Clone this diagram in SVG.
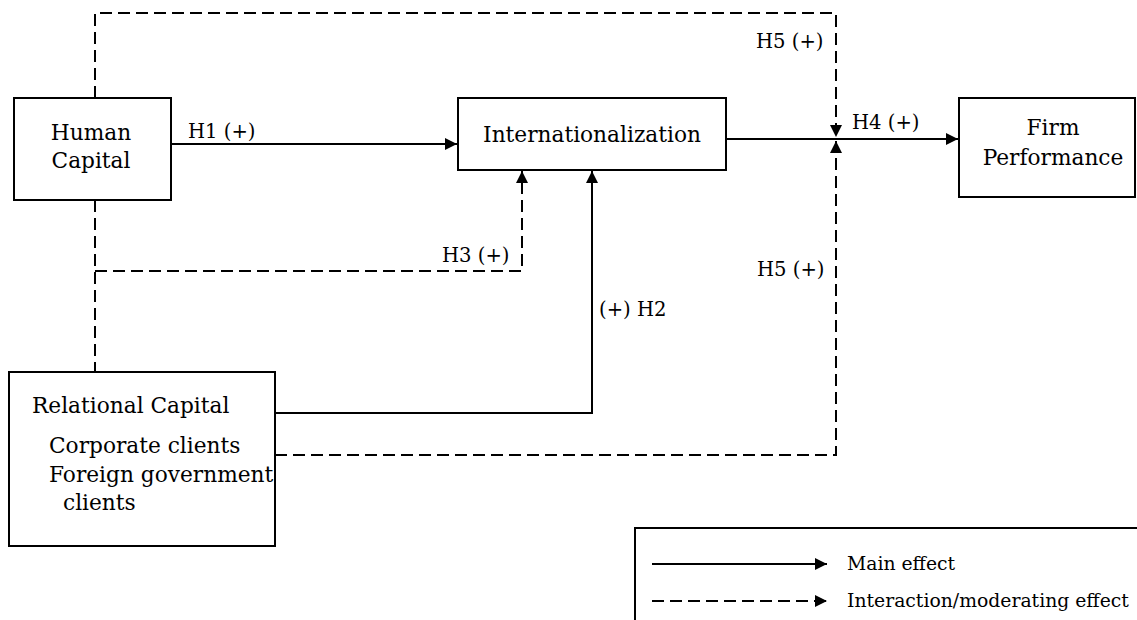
<svg xmlns="http://www.w3.org/2000/svg" width="1137" height="620" viewBox="0 0 1137 620">
  <style>
    .box { fill: #ffffff; stroke: #000000; stroke-width: 2; }
    .solid { fill: none; stroke: #000000; stroke-width: 2; }
    .dash { fill: none; stroke: #000000; stroke-width: 2; stroke-dasharray: 12 6; }
    .node { font-family: "DejaVu Serif", "Liberation Serif", serif; font-size: 21.7px; fill: #000000; }
    .lbl { font-family: "DejaVu Serif", "Liberation Serif", serif; font-size: 19.6px; fill: #000000; }
    .key { font-family: "DejaVu Serif", "Liberation Serif", serif; font-size: 18.8px; fill: #000000; }
    .mid { text-anchor: middle; }
  </style>
  <defs>
    <marker id="arrow" markerUnits="userSpaceOnUse" markerWidth="13" markerHeight="12" refX="12" refY="6" orient="auto">
      <path d="M0,0 L12,6 L0,12 Z" fill="#000000"/>
    </marker>
  </defs>

  <rect width="1137" height="620" fill="#ffffff"/>

  <!-- connectors -->
  <g id="connectors">
    <!-- H1: human capital to internationalization -->
    <line class="solid" x1="171" y1="144" x2="457" y2="144" marker-end="url(#arrow)"/>
    <!-- H4: internationalization to firm performance -->
    <line class="solid" x1="726" y1="139" x2="958" y2="139" marker-end="url(#arrow)"/>
    <!-- H5 upper: human capital moderating the H4 path -->
    <path class="dash" d="M95,98 V13 H836 V137" marker-end="url(#arrow)"/>
    <!-- H5 lower: relational capital moderating the H4 path -->
    <path class="dash" d="M275,455 H836 V141" marker-end="url(#arrow)"/>
    <!-- link between human and relational capital -->
    <line class="dash" x1="95" y1="200" x2="95" y2="372"/>
    <!-- H3: interaction into internationalization -->
    <path class="dash" d="M95,271 H522 V171" marker-end="url(#arrow)"/>
    <!-- H2: relational capital to internationalization -->
    <path class="solid" d="M275,413 H592 V171" marker-end="url(#arrow)"/>
  </g>

  <!-- nodes -->
  <g id="human-capital">
    <rect class="box" x="14" y="98" width="157" height="102"/>
    <text class="node mid" x="91" y="140">Human</text>
    <text class="node mid" x="91" y="168">Capital</text>
  </g>

  <g id="internationalization">
    <rect class="box" x="458" y="98" width="268" height="72"/>
    <text class="node mid" x="592" y="142">Internationalization</text>
  </g>

  <g id="firm-performance">
    <rect class="box" x="959" y="98" width="176" height="99"/>
    <text class="node mid" x="1053" y="135">Firm</text>
    <text class="node mid" x="1053" y="165">Performance</text>
  </g>

  <g id="relational-capital">
    <rect class="box" x="9" y="372" width="266" height="174"/>
    <text class="node" x="32" y="413">Relational Capital</text>
    <text class="node" x="49" y="453">Corporate clients</text>
    <text class="node" x="49" y="482">Foreign government</text>
    <text class="node" x="63" y="510">clients</text>
  </g>

  <!-- hypothesis labels -->
  <g id="labels">
    <text class="lbl" x="188" y="138">H1 (+)</text>
    <text class="lbl" x="756" y="48">H5 (+)</text>
    <text class="lbl" x="852" y="129">H4 (+)</text>
    <text class="lbl" x="442" y="262">H3 (+)</text>
    <text class="lbl" x="599" y="316">(+) H2</text>
    <text class="lbl" x="757" y="276">H5 (+)</text>
  </g>

  <!-- legend -->
  <g id="legend">
    <path class="solid" d="M1140,528 H635 V622"/>
    <line class="solid" x1="652" y1="564" x2="827" y2="564" marker-end="url(#arrow)"/>
    <text class="key" x="847" y="570">Main effect</text>
    <line class="dash" x1="652" y1="601" x2="827" y2="601" marker-end="url(#arrow)"/>
    <text class="key" x="847" y="607">Interaction/moderating effect</text>
  </g>
</svg>
